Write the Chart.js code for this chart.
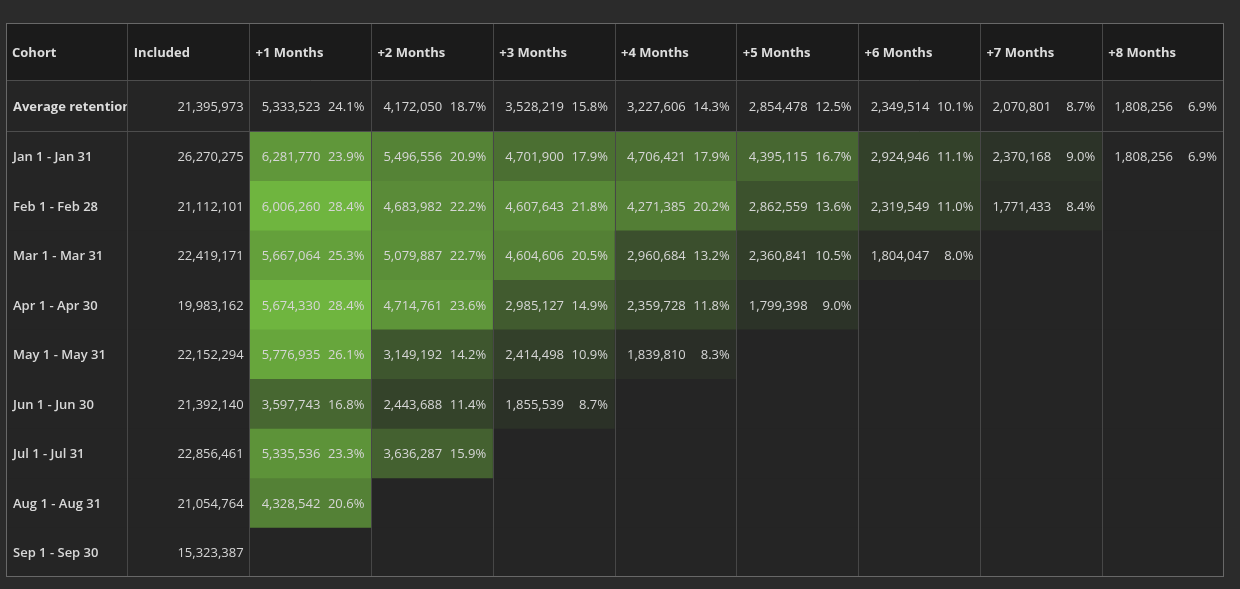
<!DOCTYPE html>
<html>
<head>
<meta charset="utf-8">
<script src="https://cdn.jsdelivr.net/npm/chart.js@4/dist/chart.umd.min.js"></script>
<style>
  html, body { margin: 0; padding: 0; background: #2b2b2b; }
  #wrap { width: 1240px; height: 589px; position: relative; }
</style>
</head>
<body>
<div id="wrap"><canvas id="cohortChart"></canvas></div>
<script>
const columns = ['Cohort', 'Included', '+1 Months', '+2 Months', '+3 Months', '+4 Months',
  '+5 Months', '+6 Months', '+7 Months', '+8 Months'];
const cohorts = ['Jan 1 - Jan 31', 'Feb 1 - Feb 28', 'Mar 1 - Mar 31', 'Apr 1 - Apr 30',
  'May 1 - May 31', 'Jun 1 - Jun 30', 'Jul 1 - Jul 31', 'Aug 1 - Aug 31', 'Sep 1 - Sep 30'];
const included = [26270275, 21112101, 22419171, 19983162, 22152294, 21392140, 22856461, 21054764, 15323387];

const avgLabel = 'Average retention';
const avgIncluded = 21395973;
const avgCounts = [5333523, 4172050, 3528219, 3227606, 2854478, 2349514, 2070801, 1808256];
const avgPct = [24.1, 18.7, 15.8, 14.3, 12.5, 10.1, 8.7, 6.9];

const retainedCounts = [
  [6281770, 5496556, 4701900, 4706421, 4395115, 2924946, 2370168, 1808256],
  [6006260, 4683982, 4607643, 4271385, 2862559, 2319549, 1771433],
  [5667064, 5079887, 4604606, 2960684, 2360841, 1804047],
  [5674330, 4714761, 2985127, 2359728, 1799398],
  [5776935, 3149192, 2414498, 1839810],
  [3597743, 2443688, 1855539],
  [5335536, 3636287],
  [4328542],
  []
];
const retainedPct = [
  [23.9, 20.9, 17.9, 17.9, 16.7, 11.1, 9.0, 6.9],
  [28.4, 22.2, 21.8, 20.2, 13.6, 11.0, 8.4],
  [25.3, 22.7, 20.5, 13.2, 10.5, 8.0],
  [28.4, 23.6, 14.9, 11.8, 9.0],
  [26.1, 14.2, 10.9, 8.3],
  [16.8, 11.4, 8.7],
  [23.3, 15.9],
  [20.6],
  []
];

// row heights in row units: header, average, then one per cohort
const rowHeights = [1.15, 1.03].concat(cohorts.map(() => 1));
const rowBounds = [];
let acc = 0;
rowHeights.forEach(h => { rowBounds.push([acc, acc + h]); acc += h; });
const totalRows = acc;

const HEADER_BG = '#1b1b1b';
const CELL_BG = '#252525';
const LOW = [37, 37, 37], HIGH = [111, 181, 63];
function heat(p) {
  let t = (p - 6.9) / (28.4 - 6.9);
  t = Math.max(0, Math.min(1, t));
  const c = LOW.map((v, i) => Math.round(v + (HIGH[i] - v) * t));
  return `rgb(${c[0]},${c[1]},${c[2]})`;
}

const fmt = n => n.toLocaleString('en-US');

// one dataset per table row, bars overlap (grouped: false)
const datasets = rowBounds.map((b, r) => {
  const colors = columns.map((c, ci) => {
    if (r === 0) return HEADER_BG;
    if (r >= 2 && ci >= 2) {
      const p = retainedPct[r - 2][ci - 2];
      if (p !== undefined) return heat(p);
    }
    return CELL_BG;
  });
  return {
    data: columns.map(() => [b[0], b[1]]),
    backgroundColor: colors,
    borderWidth: 0,
    grouped: false,
    barPercentage: 1,
    categoryPercentage: 1
  };
});

const tablePlugin = {
  id: 'tableText',
  afterDatasetsDraw(chart) {
    const { ctx, scales: { x, y }, chartArea } = chart;
    const colW = x.getPixelForValue(1) - x.getPixelForValue(0);
    const left = i => x.getPixelForValue(i) - colW / 2;
    const right = i => x.getPixelForValue(i) + colW / 2;
    const midY = r => (y.getPixelForValue(rowBounds[r][0]) + y.getPixelForValue(rowBounds[r][1])) / 2 + 1.5;

    ctx.save();
    // grid lines
    ctx.lineWidth = 1;
    ctx.strokeStyle = '#474747';
    for (let i = 1; i < columns.length; i++) {
      const px = Math.floor(left(i)) + 0.5;
      ctx.beginPath();
      ctx.moveTo(px, chartArea.top);
      ctx.lineTo(px, chartArea.bottom);
      ctx.stroke();
    }
    [rowBounds[0][1], rowBounds[1][1]].forEach(v => {
      const py = Math.round(y.getPixelForValue(v)) + 0.5;
      ctx.strokeStyle = '#4d4d4d';
      ctx.beginPath();
      ctx.moveTo(chartArea.left, py);
      ctx.lineTo(chartArea.right, py);
      ctx.stroke();
    });
    ctx.strokeStyle = '#686868';
    ctx.strokeRect(Math.round(chartArea.left) + 0.5, Math.round(chartArea.top) + 0.5,
      Math.round(chartArea.right - chartArea.left) - 1, Math.round(chartArea.bottom - chartArea.top) - 1);

    ctx.textBaseline = 'middle';
    const txt = '#d6d6d6';

    // header
    ctx.fillStyle = '#dcdcdc';
    ctx.font = 'bold 13px "Open Sans"';
    ctx.textAlign = 'left';
    columns.forEach((c, i) => ctx.fillText(c, left(i) + 6, midY(0)));

    const drawValues = (r, inc, counts, pcts) => {
      ctx.font = '13px "Open Sans"';
      ctx.fillStyle = txt;
      ctx.textAlign = 'right';
      ctx.fillText(fmt(inc), right(1) - 6, midY(r));
      counts.forEach((n, k) => {
        const ci = k + 2;
        ctx.fillText(pcts[k].toFixed(1) + '%', right(ci) - 7, midY(r));
        ctx.fillText(fmt(n), right(ci) - 51, midY(r));
      });
    };

    // average row (label clipped to its cell)
    ctx.save();
    ctx.beginPath();
    ctx.rect(left(0), y.getPixelForValue(rowBounds[1][0]), colW - 1, 60);
    ctx.clip();
    ctx.font = 'bold 13px "Open Sans"';
    ctx.fillStyle = '#dcdcdc';
    ctx.textAlign = 'left';
    ctx.fillText(avgLabel, left(0) + 7, midY(1));
    ctx.restore();
    drawValues(1, avgIncluded, avgCounts, avgPct);

    // cohort rows
    cohorts.forEach((name, k) => {
      const r = k + 2;
      ctx.font = '600 13px "Open Sans"';
      ctx.fillStyle = '#d8d8d8';
      ctx.textAlign = 'left';
      ctx.fillText(name, left(0) + 7, midY(r));
      drawValues(r, included[k], retainedCounts[k], retainedPct[k]);
    });
    ctx.restore();
  }
};

new Chart(document.getElementById('cohortChart').getContext('2d'), {
  type: 'bar',
  data: { labels: columns, datasets },
  options: {
    responsive: true,
    maintainAspectRatio: false,
    animation: false,
    layout: { padding: { left: 6, right: 16, top: 23, bottom: 12 } },
    plugins: { legend: { display: false }, tooltip: { enabled: false } },
    scales: {
      x: { type: 'category', display: false, offset: true },
      y: { type: 'linear', display: false, reverse: true, min: 0, max: totalRows }
    }
  },
  plugins: [tablePlugin]
});
</script>
</body>
</html>
